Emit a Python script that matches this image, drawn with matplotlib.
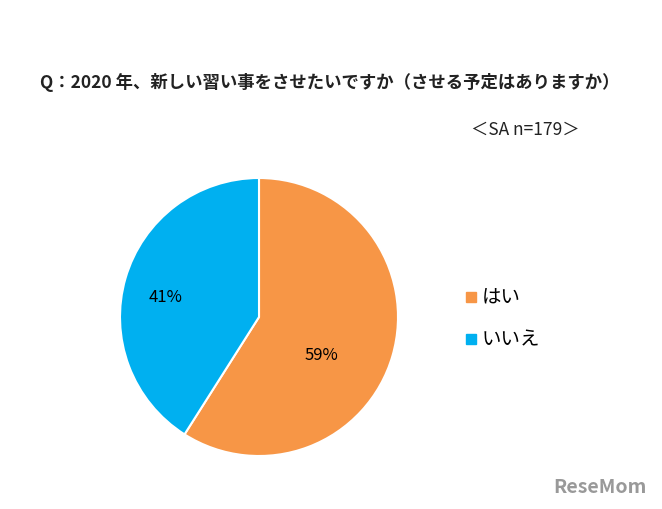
import matplotlib
matplotlib.use("Agg")
import matplotlib.pyplot as plt
plt.rcParams['font.family'] = ['Noto Sans CJK JP', 'DejaVu Sans']

labels = ['はい', 'いいえ']
values = [59, 41]
colors = ['#F79646', '#00B0F0']

fig = plt.figure(figsize=(6.62, 5.10), dpi=100)
cx, cy, r = 259/662, (510-318)/510, 139
ax = fig.add_axes([cx - r/662, cy - r/510, 2*r/662, 2*r/510])
wedges, texts = ax.pie(values, colors=colors, startangle=90, counterclock=False,
                       wedgeprops=dict(edgecolor='white', linewidth=1.5))
ax.set_xlim(-1, 1)
ax.set_ylim(-1, 1)
ax.set_aspect('equal')
ax.text(0.45, -0.27, f'{values[0]}%', ha='center', va='center', fontsize=12)
ax.text(-0.67, 0.15, f'{values[1]}%', ha='center', va='center', fontsize=12)

fig.text(330/662, 1-82/510, 'Q：2020 年、新しい習い事をさせたいですか（させる予定はありますか）',
         ha='center', va='center', fontsize=12.5, fontweight='bold', color='#222222')
fig.text(525/662, 1-130/510, '＜SA n=179＞', ha='center', va='center', fontsize=12.5, color='#222222')

for i, (lab, col) in enumerate(zip(labels, colors)):
    y = 1 - (298 + 42*i)/510
    fig.patches.append(plt.Rectangle((466/662, y - 5/510), 10/662, 10/510,
                                     transform=fig.transFigure, color=col))
    fig.text(482/662, y, lab, ha='left', va='center', fontsize=14)

fig.text(600/662, 1-488/510, 'ReseMom', ha='center', va='center', fontsize=14,
         fontweight='bold', color='#999999')
fig.savefig('out.png', dpi=100)
